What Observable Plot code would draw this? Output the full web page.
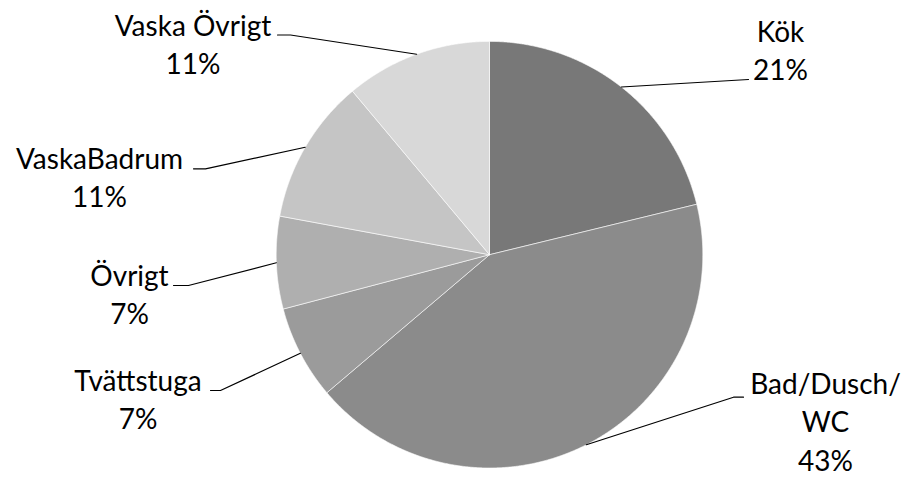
<!DOCTYPE html>
<html><head><meta charset="utf-8">
<script src="https://cdn.jsdelivr.net/npm/d3@7"></script>
<script src="https://cdn.jsdelivr.net/npm/@observablehq/plot@0.6"></script>
<style>html,body{margin:0;padding:0;background:#fff}</style>
</head><body><div id="chart"></div>
<script>
// ---- data ----
const categories = ["Kök", "Bad/Dusch/WC", "Tvättstuga", "Övrigt", "VaskaBadrum", "Vaska Övrigt"];
const values = [21.2, 42.6, 7.1, 7.0, 11.0, 11.1];
const labelNames = [["Kök"], ["Bad/Dusch/", "WC"], ["Tvättstuga"], ["Övrigt"], ["VaskaBadrum"], ["Vaska Övrigt"]];
const colors = ["#787878", "#8b8b8b", "#9b9b9b", "#afafaf", "#c5c5c5", "#d8d8d8"];

// ---- layout (pixels in the 904x477 frame) ----
const W = 904, H = 477, CX = 489, CY = 254.2, R = 213.3;
const labelLayout = [
  {pts: [[748, 79]], tx: 780, ty: 79.5},
  {pts: [[733, 396.7], [743, 396.7]], tx: 825, ty: 470},
  {pts: [[220, 390], [210, 390]], tx: 137.5, ty: 428.5},
  {pts: [[188, 285], [173, 285]], tx: 129, ty: 323.5},
  {pts: [[205, 168.3], [193, 168.3]], tx: 99, ty: 206.7},
  {pts: [[290, 34.5], [277, 34.5]], tx: 192.5, ty: 73.5}
];
const ux = px => (px - CX) / R;
const uy = py => (CY - py) / R;

const total = d3.sum(values);
const arcs = d3.pie().sort(null).value(d => d)(values);

// slice polygons in unit-circle coordinates
const slicePts = [];
arcs.forEach((a, i) => {
  slicePts.push({cat: categories[i], x: 0, y: 0});
  const n = Math.max(2, Math.ceil((a.endAngle - a.startAngle) / 0.005));
  for (let k = 0; k <= n; k++) {
    const t = a.startAngle + (a.endAngle - a.startAngle) * k / n;
    slicePts.push({cat: categories[i], x: Math.sin(t), y: Math.cos(t)});
  }
  slicePts.push({cat: categories[i], x: 0, y: 0});
});

// leader lines
const leaderPts = [];
arcs.forEach((a, i) => {
  const m = (a.startAngle + a.endAngle) / 2;
  leaderPts.push({cat: categories[i], x: Math.sin(m), y: Math.cos(m)});
  labelLayout[i].pts.forEach(p => leaderPts.push({cat: categories[i], x: ux(p[0]), y: uy(p[1])}));
});

// labels
const labels = categories.map((c, i) => ({
  text: [...labelNames[i], Math.round(values[i] / total * 100) + "%"].join("\n"),
  x: ux(labelLayout[i].tx),
  y: uy(labelLayout[i].ty)
}));

const chart = Plot.plot({
  width: W, height: H, margin: 0,
  x: {domain: [-CX / R, (W - CX) / R], axis: null},
  y: {domain: [-(H - CY) / R, CY / R], axis: null},
  color: {domain: categories, range: colors},
  style: {fontFamily: "Lato, sans-serif", background: "white"},
  marks: [
    Plot.line(slicePts, {x: "x", y: "y", z: "cat", fill: "cat", stroke: "#ffffff", strokeWidth: 0.6, curve: "linear"}),
    Plot.line(leaderPts, {x: "x", y: "y", z: "cat", stroke: "#000", strokeWidth: 1.2, curve: "linear"}),
    Plot.text(labels, {x: "x", y: "y", text: "text", fontSize: 28, lineHeight: 1.375, lineAnchor: "bottom", textAnchor: "middle", fill: "#000"})
  ]
});
document.getElementById("chart").appendChild(chart);
</script>
</body></html>
